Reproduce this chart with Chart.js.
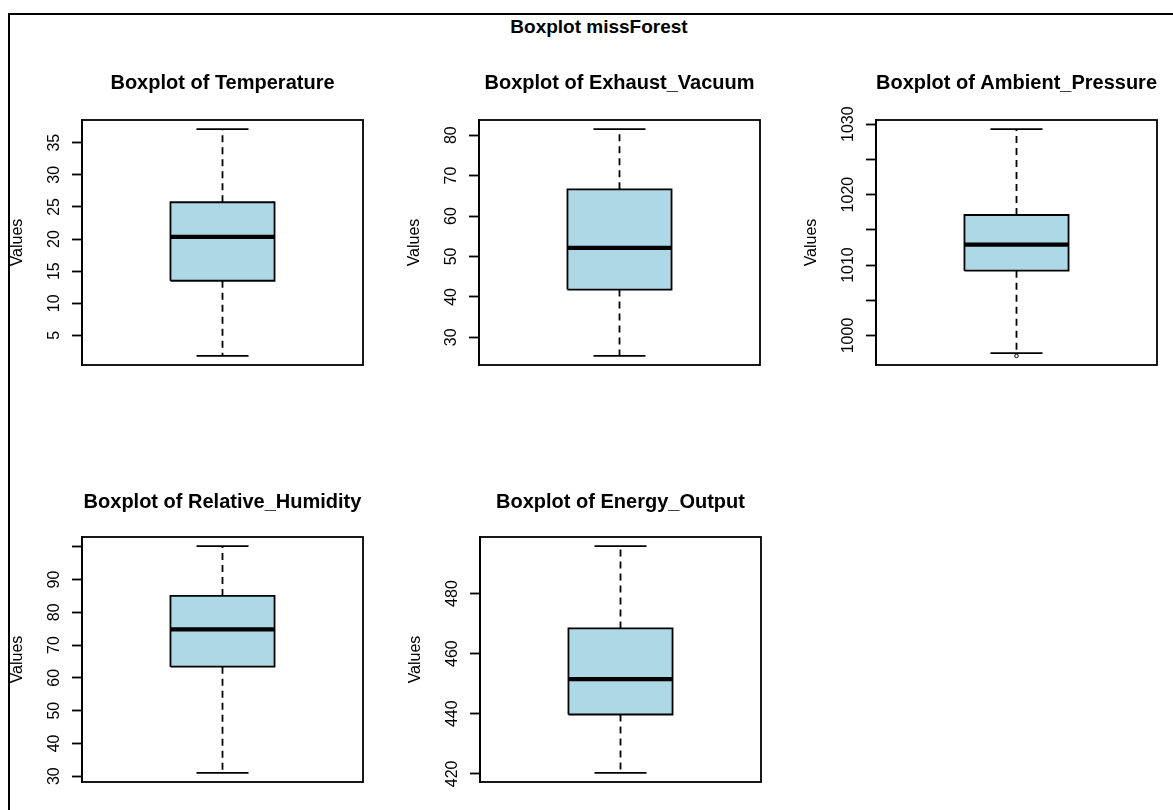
<!DOCTYPE html>
<html>
<head>
<meta charset="utf-8">
<title>Boxplot missForest</title>
<script src="https://cdn.jsdelivr.net/npm/chart.js@4.4.1/dist/chart.umd.min.js"></script>
<style>
  html, body { margin: 0; padding: 0; background: #fff; }
  body { width: 1173px; height: 810px; position: relative; overflow: hidden;
         font-family: "Liberation Sans", Arial, sans-serif; }
  .rule-top  { position: absolute; left: 8px; top: 13px; width: 1165px; height: 2px; background: #000; }
  .rule-left { position: absolute; left: 8px; top: 13px; width: 2px; height: 797px; background: #000; }
  #mainTitle { position: absolute; left: 400px; width: 398px; top: 17px; text-align: center;
               font-weight: bold; font-size: 19px; line-height: 19px; color: #000; }
  canvas { position: absolute; }
</style>
</head>
<body>
<div class="rule-top"></div>
<div class="rule-left"></div>
<div id="mainTitle">Boxplot missForest</div>

<script>
// ---- data: five-number summaries per variable ----
const variables      = ['Temperature', 'Exhaust_Vacuum', 'Ambient_Pressure', 'Relative_Humidity', 'Energy_Output'];
const whiskerLow     = [1.81,   25.4,   997.5,  31.0,  420.3];
const lowerQuartile  = [13.51,  41.8,  1009.2,  63.4,  439.75];
const medianValue    = [20.35,  52.1,  1012.9,  74.8,  451.55];
const upperQuartile  = [25.72,  66.6,  1017.1,  85.0,  468.4];
const whiskerHigh    = [37.11,  81.5,  1029.3, 100.2,  495.8];
const outlierValues  = [[], [], [997.1], [], []];

// ---- y-axis ticks and their printed labels ----
const tickValues = [
  [5, 10, 15, 20, 25, 30, 35],
  [30, 40, 50, 60, 70, 80],
  [1000, 1005, 1010, 1015, 1020, 1025, 1030],
  [30, 40, 50, 60, 70, 80, 90, 100],
  [420, 440, 460, 480]
];
const tickLabels = [
  ['5', '10', '15', '20', '25', '30', '35'],
  ['30', '40', '50', '60', '70', '80'],
  ['1000', '', '1010', '', '1020', '', '1030'],
  ['30', '40', '50', '60', '70', '80', '90', ''],
  ['420', '440', '460', '480']
];

// ---- layout (plot-region top-left corner of each panel, gap under each title) ----
const plotOrigin = [[82, 120], [479, 120], [876, 120], [82, 537], [480, 537]];
const titleGap = [25, 25, 25, 23, 23];
const PLOT_W = 281, PLOT_H = 245;
const AXIS_W = 82;          // room left of the plot for ticks, labels and axis title
const TITLE_TOP = 10, TITLE_LINE = 24;
const PAD_RIGHT = 10, PAD_BOTTOM = 24;
const TICK_LEN = 10;
const LABEL_CENTER = 27;    // distance from axis line to centre of rotated tick labels
const LINE_W = 1.8;

const FONT = '"Liberation Sans", Arial, sans-serif';
const BOX_FILL = '#ADD8E6';
const CENTER = 1, BOX_HALF = 0.2, STAPLE_HALF = 0.1;

const measure = document.createElement('canvas').getContext('2d');
measure.font = '16px ' + FONT;

// outline of the plot region, drawn on top of the boxes
const plotFrame = {
  id: 'plotFrame',
  afterDatasetsDraw(chart) {
    const { ctx, chartArea: a } = chart;
    ctx.save();
    ctx.strokeStyle = '#000';
    ctx.lineWidth = LINE_W;
    ctx.strokeRect(a.left, a.top, a.right - a.left, a.bottom - a.top);
    ctx.restore();
  }
};

const seg = (x0, y0, x1, y1) => [{ x: x0, y: y0 }, { x: x1, y: y1 }];
const lineBase = { pointRadius: 0, borderColor: '#000', borderWidth: LINE_W, fill: false, tension: 0 };

variables.forEach((name, i) => {
  const [px, py] = plotOrigin[i];
  const titleBlock = TITLE_TOP + TITLE_LINE + titleGap[i];
  const cw = AXIS_W + PLOT_W + PAD_RIGHT;
  const ch = titleBlock + PLOT_H + PAD_BOTTOM;
  const cv = document.createElement('canvas');
  cv.width = cw; cv.height = ch;
  cv.style.left = (px - AXIS_W) + 'px';
  cv.style.top = (py - titleBlock) + 'px';
  cv.style.width = cw + 'px';
  cv.style.height = ch + 'px';
  document.body.appendChild(cv);

  const lo = Math.min(whiskerLow[i], ...outlierValues[i]);
  const hi = Math.max(whiskerHigh[i], ...outlierValues[i]);
  const ext = (hi - lo) * 0.04;

  const widest = Math.max(...tickLabels[i].map(t => measure.measureText(t).width));
  const tickPad = LABEL_CENTER - TICK_LEN - widest / 2;

  const q1 = lowerQuartile[i], q3 = upperQuartile[i], med = medianValue[i];
  const wl = whiskerLow[i], wh = whiskerHigh[i];
  const L = CENTER - BOX_HALF, R = CENTER + BOX_HALF;

  new Chart(cv, {
    type: 'line',
    data: {
      datasets: [
        { ...lineBase, label: 'median', data: seg(L, med, R, med), borderWidth: 4.2, borderCapStyle: 'butt' },
        { ...lineBase, label: 'box', borderJoinStyle: 'miter',
          data: [{ x: L, y: q1 }, { x: R, y: q1 }, { x: R, y: q3 }, { x: L, y: q3 }, { x: L, y: q1 }] },
        { ...lineBase, label: 'upper whisker', data: seg(CENTER, q3, CENTER, wh), borderDash: [7, 5] },
        { ...lineBase, label: 'lower whisker', data: seg(CENTER, q1, CENTER, wl), borderDash: [7, 5] },
        { ...lineBase, label: 'upper staple', data: seg(CENTER - STAPLE_HALF, wh, CENTER + STAPLE_HALF, wh) },
        { ...lineBase, label: 'lower staple', data: seg(CENTER - STAPLE_HALF, wl, CENTER + STAPLE_HALF, wl) },
        { label: 'outliers', data: outlierValues[i].map(v => ({ x: CENTER, y: v })), showLine: false,
          pointRadius: 1.8, pointBorderWidth: 1, pointBorderColor: '#000', pointBackgroundColor: 'rgba(0,0,0,0)' },
        { ...lineBase, label: 'box top', data: seg(L, q3, R, q3), borderColor: 'rgba(0,0,0,0)',
          fill: '+1', backgroundColor: BOX_FILL },
        { ...lineBase, label: 'box bottom', data: seg(L, q1, R, q1), borderColor: 'rgba(0,0,0,0)' }
      ]
    },
    options: {
      responsive: false,
      animation: false,
      events: [],
      devicePixelRatio: 1,
      layout: { padding: { left: 0, right: PAD_RIGHT, top: 0, bottom: PAD_BOTTOM } },
      plugins: {
        legend: { display: false },
        tooltip: { enabled: false },
        title: {
          display: true, fullSize: false, text: 'Boxplot of ' + name, color: '#000',
          font: { family: FONT, size: 20, weight: 'bold', lineHeight: 1.2 },
          padding: { top: TITLE_TOP, bottom: titleGap[i] }
        }
      },
      scales: {
        x: { type: 'linear', min: 0.46, max: 1.54, display: false },
        y: {
          type: 'linear', min: lo - ext, max: hi + ext, bounds: 'data',
          afterBuildTicks: s => { s.ticks = tickValues[i].map(v => ({ value: v })); },
          afterFit: s => { s.width = AXIS_W; },
          ticks: {
            autoSkip: false, minRotation: 90, maxRotation: 90, crossAlign: 'center',
            padding: tickPad, color: '#000', font: { family: FONT, size: 16 },
            callback: (v, idx) => tickLabels[i][idx]
          },
          grid: { drawOnChartArea: false, drawTicks: true, tickLength: TICK_LEN, tickColor: '#000', tickWidth: LINE_W },
          border: { display: true, color: '#000', width: LINE_W },
          title: { display: true, text: 'Values', color: '#000', font: { family: FONT, size: 16, lineHeight: 1.2 },
                   padding: { top: 8.4, bottom: 0 } }
        }
      }
    },
    plugins: [plotFrame]
  });
});
</script>
</body>
</html>
